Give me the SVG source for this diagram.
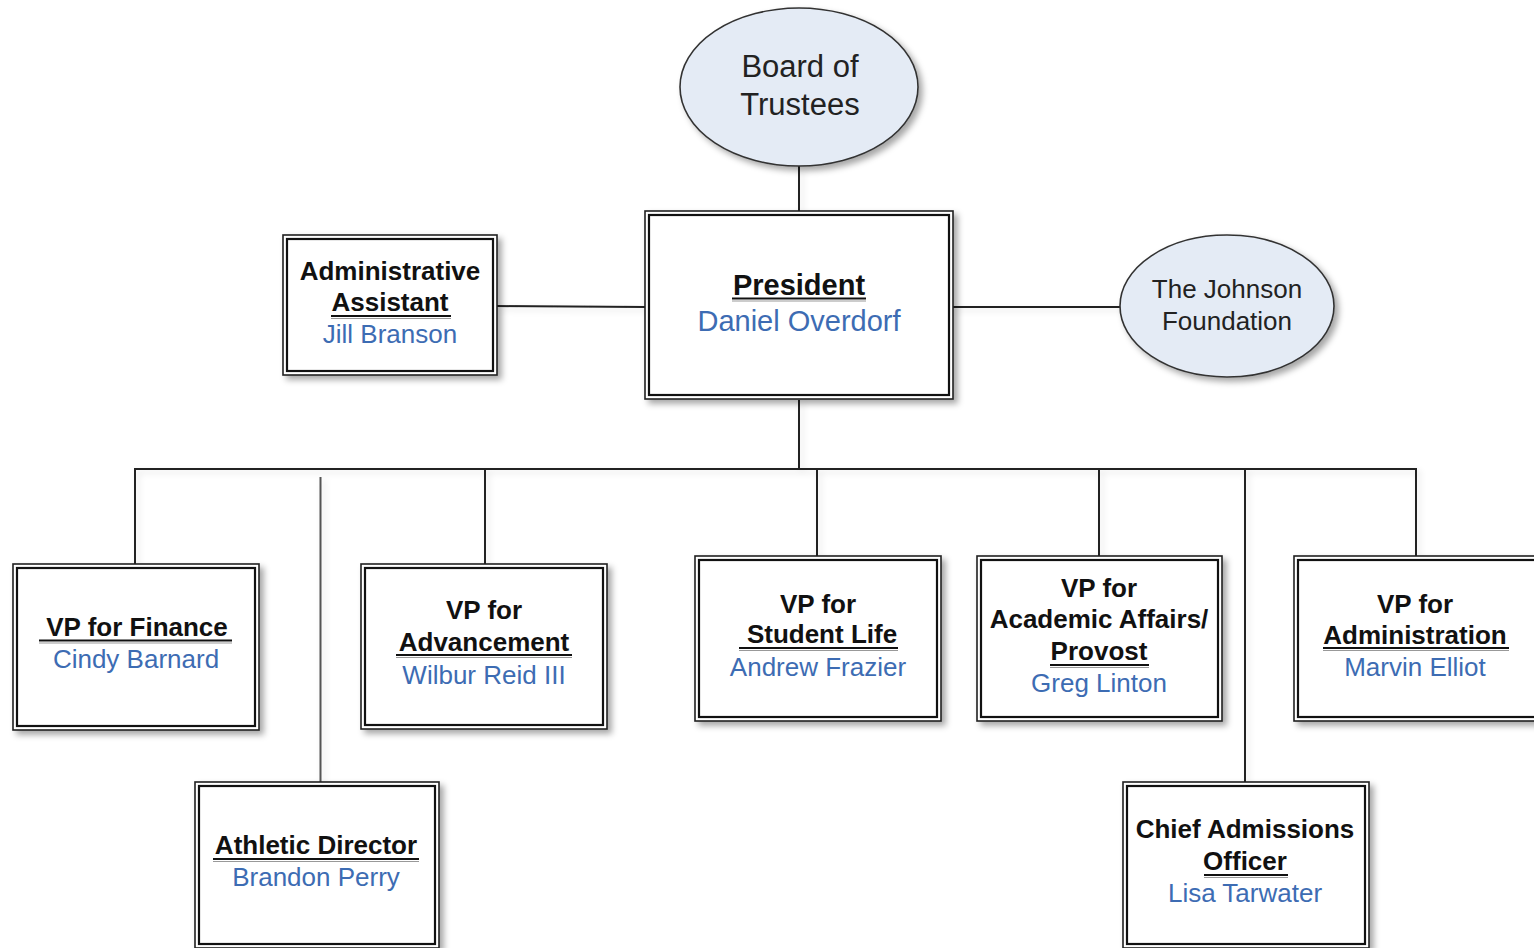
<svg xmlns="http://www.w3.org/2000/svg" width="1534" height="948" viewBox="0 0 1534 948">
<defs>
<filter id="sh" x="-10%" y="-10%" width="130%" height="130%">
<feDropShadow dx="4" dy="4" stdDeviation="3" flood-color="#000" flood-opacity="0.35"/>
</filter>
<filter id="lsh" x="-10%" y="-10%" width="130%" height="130%">
<feDropShadow dx="3" dy="3" stdDeviation="3" flood-color="#000" flood-opacity="0.12"/>
</filter>
<style>
.outer{fill:#fff;stroke:#222;stroke-width:1.6}
.inner{fill:none;stroke:#111;stroke-width:2.2}
.ell{fill:#e4ebf5;stroke:#333;stroke-width:1.6}
.t{font-family:"Liberation Sans",Arial,sans-serif;font-size:26px;font-weight:bold;fill:#111;text-anchor:middle}
.n{font-family:"Liberation Sans",Arial,sans-serif;font-size:26px;fill:#3d6cb3;text-anchor:middle}
.e{font-family:"Liberation Sans",Arial,sans-serif;fill:#222;text-anchor:middle}
.big{font-size:29px}
.ul{stroke:#111;stroke-width:2.2}
.ul2{stroke:#999;stroke-width:1}
.c{stroke:#222;stroke-width:2;fill:none}
</style>
</defs>
<rect width="1534" height="948" fill="#fff"/>

<g id="connectors" filter="url(#lsh)">
<line class="c" x1="799" y1="166" x2="799" y2="211"/>
<line class="c" x1="497" y1="306" x2="645" y2="307"/>
<line class="c" x1="953" y1="307" x2="1120" y2="307"/>
<line class="c" x1="799" y1="400" x2="799" y2="469"/>
<polyline class="c" points="135,564 135,469 1416,469 1416,556"/>
<line class="c" x1="485" y1="469" x2="485" y2="564"/>
<line class="c" x1="817" y1="469" x2="817" y2="556"/>
<line class="c" x1="1099" y1="469" x2="1099" y2="556"/>
<line class="c" x1="1245" y1="469" x2="1245" y2="782"/>
<line x1="320.5" y1="477" x2="320.5" y2="782" stroke="#555" stroke-width="2"/>
</g>

<g id="board">
<ellipse class="ell" cx="799" cy="87" rx="119" ry="79" filter="url(#sh)"/>
<text class="e" font-size="31" x="800" y="77">Board of</text>
<text class="e" font-size="31" x="800" y="115">Trustees</text>
</g>

<g id="johnson">
<ellipse class="ell" cx="1227" cy="306" rx="107" ry="71" filter="url(#sh)"/>
<text class="e" font-size="26" x="1227" y="298">The Johnson</text>
<text class="e" font-size="26" x="1227" y="330">Foundation</text>
</g>

<g id="president">
<rect class="outer" x="645" y="211" width="308" height="188" filter="url(#sh)"/>
<rect class="inner" x="649" y="215" width="300" height="180"/>
<text class="t big" x="799" y="295">President</text>
<line class="ul" x1="732" y1="298.5" x2="866" y2="298.5"/>
<line class="ul2" x1="732" y1="301" x2="866" y2="301"/>
<text class="n big" x="799" y="331">Daniel Overdorf</text>
</g>

<g id="admin-assistant">
<rect class="outer" x="283" y="235" width="214" height="140" filter="url(#sh)"/>
<rect class="inner" x="287" y="239" width="206" height="132"/>
<text class="t" x="390" y="280">Administrative</text>
<text class="t" x="390" y="311">Assistant</text>
<line class="ul" x1="331" y1="316" x2="451" y2="316"/>
<line class="ul2" x1="331" y1="318.5" x2="451" y2="318.5"/>
<text class="n" x="390" y="343">Jill Branson</text>
</g>

<g id="vp-finance">
<rect class="outer" x="13" y="564" width="246" height="166" filter="url(#sh)"/>
<rect class="inner" x="17" y="568" width="238" height="158"/>
<text class="t" x="137" y="636">VP for Finance</text>
<line class="ul" x1="39" y1="640.5" x2="232" y2="640.5"/>
<line class="ul2" x1="39" y1="643" x2="232" y2="643"/>
<text class="n" x="136" y="668">Cindy Barnard</text>
</g>

<g id="vp-advancement">
<rect class="outer" x="361" y="564" width="246" height="165" filter="url(#sh)"/>
<rect class="inner" x="365" y="568" width="238" height="157"/>
<text class="t" x="484" y="619">VP for</text>
<text class="t" x="484" y="651">Advancement</text>
<line class="ul" x1="396" y1="655" x2="572" y2="655"/>
<line class="ul2" x1="396" y1="657.5" x2="572" y2="657.5"/>
<text class="n" x="484" y="684">Wilbur Reid III</text>
</g>

<g id="vp-student-life">
<rect class="outer" x="695" y="556" width="246" height="165" filter="url(#sh)"/>
<rect class="inner" x="699" y="560" width="238" height="157"/>
<text class="t" x="818" y="613">VP for</text>
<text class="t" x="822" y="643">Student Life</text>
<line class="ul" x1="739" y1="648" x2="898" y2="648"/>
<line class="ul2" x1="739" y1="650.5" x2="898" y2="650.5"/>
<text class="n" x="818" y="676">Andrew Frazier</text>
</g>

<g id="vp-academic">
<rect class="outer" x="977" y="556" width="245" height="165" filter="url(#sh)"/>
<rect class="inner" x="981" y="560" width="237" height="157"/>
<text class="t" x="1099" y="597">VP for</text>
<text class="t" x="1099" y="628">Academic Affairs/</text>
<text class="t" x="1099" y="660">Provost</text>
<line class="ul" x1="1050" y1="665" x2="1149" y2="665"/>
<line class="ul2" x1="1050" y1="667.5" x2="1149" y2="667.5"/>
<text class="n" x="1099" y="692">Greg Linton</text>
</g>

<g id="vp-administration">
<rect class="outer" x="1294" y="556" width="246" height="165" filter="url(#sh)"/>
<rect class="inner" x="1298" y="560" width="238" height="157"/>
<text class="t" x="1415" y="613">VP for</text>
<text class="t" x="1415" y="644">Administration</text>
<line class="ul" x1="1323" y1="648" x2="1509" y2="648"/>
<line class="ul2" x1="1323" y1="650.5" x2="1509" y2="650.5"/>
<text class="n" x="1415" y="676">Marvin Elliot</text>
</g>

<g id="athletic-director">
<rect class="outer" x="195" y="782" width="244" height="166" filter="url(#sh)"/>
<rect class="inner" x="199" y="786" width="236" height="158"/>
<text class="t" x="316" y="854">Athletic Director</text>
<line class="ul" x1="213" y1="859" x2="419" y2="859"/>
<line class="ul2" x1="213" y1="861.5" x2="419" y2="861.5"/>
<text class="n" x="316" y="886">Brandon Perry</text>
</g>

<g id="chief-admissions">
<rect class="outer" x="1123" y="782" width="246" height="166" filter="url(#sh)"/>
<rect class="inner" x="1127" y="786" width="238" height="158"/>
<text class="t" x="1245" y="838">Chief Admissions</text>
<text class="t" x="1245" y="870">Officer</text>
<line class="ul" x1="1204" y1="875" x2="1288" y2="875"/>
<line class="ul2" x1="1204" y1="877.5" x2="1288" y2="877.5"/>
<text class="n" x="1245" y="902">Lisa Tarwater</text>
</g>
</svg>
